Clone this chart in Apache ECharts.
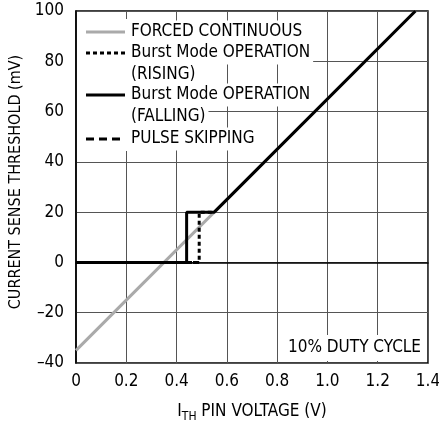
<!DOCTYPE html>
<html>
<head>
<meta charset="utf-8">
<script src="https://cdn.jsdelivr.net/npm/echarts@6/dist/echarts.min.js"></script>
<style>
  html, body { margin: 0; padding: 0; background: #fff; }
  #chart { width: 439px; height: 425px; }
</style>
</head>
<body>
<div id="chart"></div>
<script>
// values
const xTicks = [0, 0.2, 0.4, 0.6, 0.8, 1.0, 1.2, 1.4];
const yTicks = [-40, -20, 0, 20, 40, 60, 80, 100];

const forcedX = [0, 1.35];
const forcedY = [-35, 100];

const fallingX = [0, 0.44, 0.44, 0.55, 1.35];
const fallingY = [0, 0, 20, 20, 100];

const risingX = [0, 0.49, 0.49, 0.55];
const risingY = [0, 0, 20, 20];

const pulseX = [0, 0.49];
const pulseY = [0, 0];

const legendNames = ['FORCED CONTINUOUS', 'Burst Mode OPERATION', '(RISING)', 'Burst Mode OPERATION', '(FALLING)', 'PULSE SKIPPING'];

const FONT = '"Liberation Sans Narrow", "DejaVu Sans Condensed", sans-serif';

function pairs(xs, ys) {
  return xs.map((x, i) => [x, ys[i]]);
}

const chart = echarts.init(document.getElementById('chart'));

// legend drawn as graphic, text boxes have white background like the original
const legendRows = [
  { y: 32, text: legendNames[0], line: { stroke: '#aaa', lineWidth: 3 } },
  { y: 53, text: legendNames[1], line: { stroke: '#000', lineWidth: 3, lineDash: [4, 3] } },
  { y: 75, text: legendNames[2] },
  { y: 95, text: legendNames[3], line: { stroke: '#000', lineWidth: 3 } },
  { y: 117, text: legendNames[4] },
  { y: 139, text: legendNames[5], line: { stroke: '#000', lineWidth: 3, lineDash: [8, 5] } }
];

const graphics = [
  { type: 'rect', shape: { x: 77, y: 19, width: 54, height: 132 }, style: { fill: '#fff' }, z: 10 }
];
legendRows.forEach(r => {
  graphics.push({
    type: 'text', x: 131, y: r.y, z: 10,
    style: {
      text: r.text, font: '17px ' + FONT, fill: '#000',
      verticalAlign: 'middle', align: 'left',
      backgroundColor: '#fff', padding: [3, 3, 3, 0]
    }
  });
  if (r.line) {
    graphics.push({
      type: 'line', z: 11,
      shape: { x1: 86, y1: r.y, x2: 125, y2: r.y },
      style: r.line
    });
  }
});
// duty cycle note, white box kept inside the frame
graphics.push({
  type: 'rect', z: 10,
  shape: { x: 283, y: 335, width: 143, height: 26 },
  style: { fill: '#fff' }
});
graphics.push({
  type: 'text', x: 421, y: 348, z: 11,
  style: {
    text: '10% DUTY CYCLE', font: '17px ' + FONT, fill: '#000',
    align: 'right', verticalAlign: 'middle'
  }
});

chart.setOption({
  animation: false,
  grid: {
    left: 76, right: 11, top: 11, bottom: 62,
    outerBoundsMode: 'none',
    show: true, borderColor: '#000', borderWidth: 1.5
  },
  xAxis: {
    type: 'value', min: 0, max: 1.4, interval: 0.2,
    axisLine: { show: true, lineStyle: { color: '#000', width: 1.5 } },
    axisTick: { show: false },
    splitLine: { show: true, lineStyle: { color: '#555', width: 1 } },
    axisLabel: {
      color: '#000', fontFamily: FONT, fontSize: 17, margin: 10,
      formatter: v => (v === 0 ? '0' : v.toFixed(1))
    },
    name: '{a|I}{s|TH}{a| PIN VOLTAGE (V)}',
    nameLocation: 'middle', nameGap: 38,
    nameTextStyle: {
      rich: {
        a: { fontFamily: FONT, fontSize: 17, color: '#000' },
        s: { fontFamily: FONT, fontSize: 12, color: '#000', padding: [10, 0, 0, 0] }
      }
    }
  },
  yAxis: {
    type: 'value', min: -40, max: 100, interval: 20,
    axisLine: { show: true, lineStyle: { color: '#000', width: 1.5 } },
    axisTick: { show: false },
    splitLine: { show: true, lineStyle: { color: '#555', width: 1 } },
    axisLabel: {
      color: '#000', fontFamily: FONT, fontSize: 17, margin: 12,
      formatter: v => (v < 0 ? '\u2013' + Math.abs(v) : String(v))
    },
    name: 'CURRENT SENSE THRESHOLD (mV)',
    nameLocation: 'middle', nameGap: 50, nameRotate: 90,
    nameTextStyle: { fontFamily: FONT, fontSize: 16, color: '#000', padding: [0, 0, 0, 10] }
  },
  series: [
    {
      name: 'FORCED CONTINUOUS', type: 'line', showSymbol: false, z: 2,
      data: pairs(forcedX, forcedY),
      lineStyle: { color: '#aaa', width: 3 }
    },
    {
      name: 'Burst Mode OPERATION (RISING)', type: 'line', showSymbol: false, z: 3,
      data: pairs(risingX, risingY),
      lineStyle: { color: '#000', width: 3, type: [4, 3] }
    },
    {
      name: 'PULSE SKIPPING', type: 'line', showSymbol: false, z: 3,
      data: pairs(pulseX, pulseY),
      lineStyle: { color: '#000', width: 3, type: [8, 5] }
    },
    {
      name: 'Burst Mode OPERATION (FALLING)', type: 'line', showSymbol: false, z: 4,
      data: pairs(fallingX, fallingY),
      lineStyle: { color: '#000', width: 3 }
    }
  ],
  graphic: graphics
});
</script>
</body>
</html>
